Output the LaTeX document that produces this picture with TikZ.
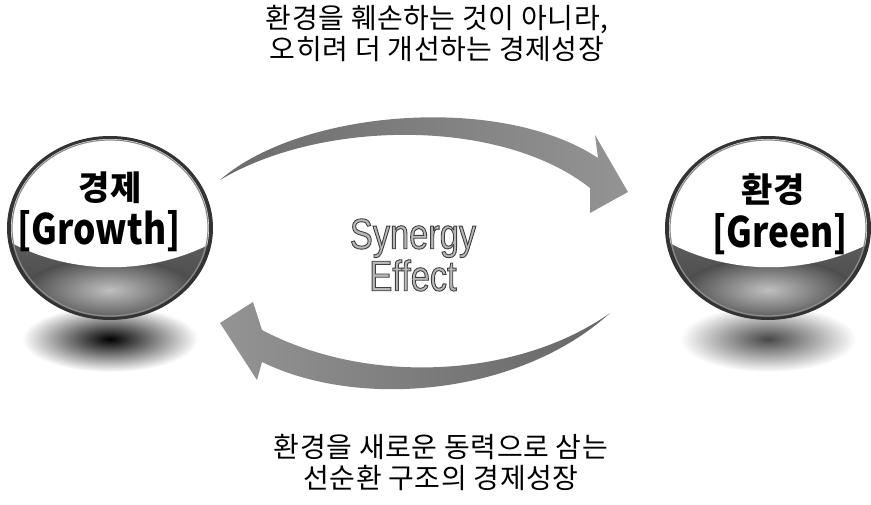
\documentclass[tikz,border=0pt]{standalone}
\usepackage{fontspec}
\newfontfamily\kr{Noto Sans CJK KR}
\newfontfamily\krcap{Noto Sans CJK KR}[LetterSpace=2]
\newfontfamily\krnarrow{Noto Sans CJK KR}[FakeStretch=0.84]
\newfontfamily\narrow{Liberation Sans}[FakeStretch=0.8]
\usetikzlibrary{fadings}

% outlined lettering for the centre label
\newcommand\outlined[1]{\special{pdf:literal direct 2 Tr 0.9 w 0.25 G 0.72 g}#1\special{pdf:literal direct 0 Tr}}

\tikzset{
  caption/.style={font=\krcap\fontsize{28}{31}\selectfont, align=center, inner sep=0pt},
  ballword/.style={font=\kr\bfseries\fontsize{34}{34}\selectfont, inner sep=0pt},
  balllatin/.style={font=\krnarrow\bfseries\fontsize{42}{42}\selectfont, inner sep=0pt},
  synergy/.style={font=\narrow\fontsize{43}{43}\selectfont, align=center,
                  text=black!40, inner sep=0pt},
  % glossy ball with its floor shadow; #1 = shadow darkness
  ball/.pic={
    \shade[inner color=black!#1, outer color=white]
      (0,-111) ellipse [x radius=88, y radius=33];
    \fill[black!80] (0,0) ellipse [x radius=103, y radius=92];
    \begin{scope}
      \clip (0,0) ellipse [x radius=99, y radius=89];
      \shade[top color=black!62, bottom color=black!75] (-103,-92) rectangle (103,0);
      \shade[inner color=black!25, outer color=black!70]
        (0,-62) ellipse [x radius=84, y radius=32];
      \fill[white] (-104,-12) .. controls (-40,-48) and (40,-48) .. (104,-14)
        -- (104,95) -- (-104,95) -- cycle;
    \end{scope}
    \draw[black!45, line width=1.2] (0,0) ellipse [x radius=98, y radius=88];
  }
}

\begin{document}
\begin{tikzpicture}[x=1pt,y=1pt]
  \useasboundingbox (0,0) rectangle (871,505);
  \clip (0,0) rectangle (871,505);

  % two balls
  \pic at (110,277) {ball=100};
  \pic at (768,277) {ball=72};

  \node[ballword]  (econ)   at (110,317) {경제};
  \node[balllatin] (growth) at (99,274) {[Growth]};
  \node[ballword]  (env)    at (773,315) {환경};
  \node[balllatin] (green)  at (780,271) {[Green]};

  % upper arrow: growth -> green
  \shade[left color=black!58, middle color=black!16, right color=black!42]
    (220,325) .. controls (300,395) and (500,412) .. (598,347)
    -- (595,370) -- (628,313) -- (590,292) -- (590,317)
    .. controls (500,388) and (320,385) .. (220,325) -- cycle;

  % lower arrow: green -> growth
  \shade[left color=black!42, middle color=black!14, right color=black!60]
    (610,192) .. controls (520,110) and (360,95) .. (262,143)
    -- (257,125) -- (220,182) -- (253,203) -- (262,175)
    .. controls (370,118) and (520,128) .. (610,192) -- cycle;

  \node[synergy] (syn) at (413,250) {\outlined{Synergy}\\[-1pt]\outlined{Effect}};

  \node[caption] (top)    at (437,472) {환경을 훼손하는 것이 아니라,\\오히려 더 개선하는 경제성장};
  \node[caption] (bottom) at (441,43)  {환경을 새로운 동력으로 삼는\\선순환 구조의 경제성장};
\end{tikzpicture}
\end{document}
